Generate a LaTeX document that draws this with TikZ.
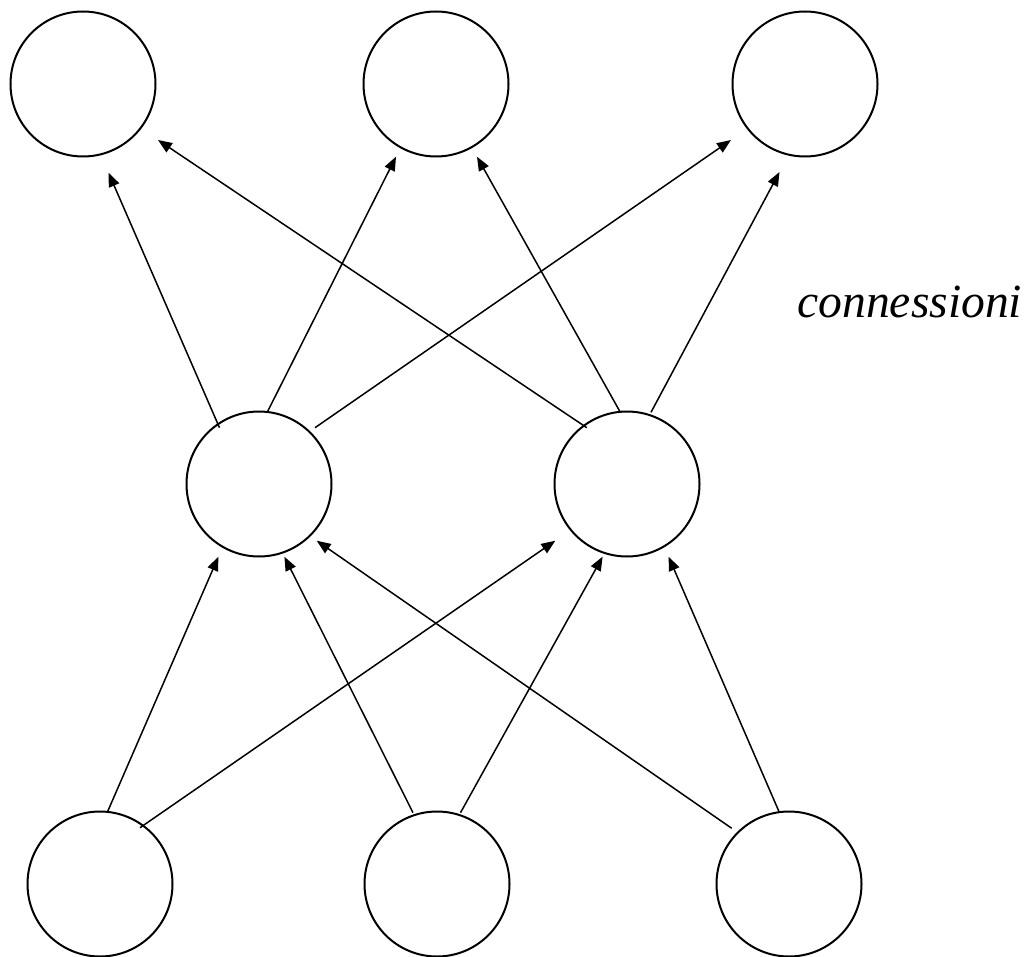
\documentclass[tikz,border=0pt]{standalone}
\usepackage{fontspec}
\setmainfont{Liberation Serif}
\usetikzlibrary{calc,arrows.meta}
\begin{document}
\begin{tikzpicture}[x=0.5pt,y=-0.5pt,
  neuron/.style={draw,circle,line width=1pt,minimum size=72.5pt,inner sep=0pt},
  link/.style={line width=0.75pt,-{Triangle[length=7pt,width=5.5pt]}}]
\useasboundingbox (0,0) rectangle (1028,957);
% units
\node[neuron] (TL) at (83,84) {};
\node[neuron] (TM) at (436,84) {};
\node[neuron] (TR) at (805,84) {};
\node[neuron] (ML) at (259,484) {};
\node[neuron] (MR) at (627,484) {};
\node[neuron] (BL) at (100,884) {};
\node[neuron] (BM) at (437,884) {};
\node[neuron] (BR) at (789,884) {};
% middle layer to top layer
\draw[link] ($(ML)+(-39.5,-56.3)$) -- ($(TL)+(25.5,88.7)$);
\draw[link] ($(ML)+(8.5,-72.3)$) -- ($(TM)+(-40,72.7)$);
\draw[link] ($(ML)+(56,-56.3)$) -- ($(TR)+(-74,56)$);
\draw[link] ($(MR)+(-40.2,-56.3)$) -- ($(TL)+(75,56)$);
\draw[link] ($(MR)+(-7,-72.3)$) -- ($(TM)+(41,72.7)$);
\draw[link] ($(MR)+(24,-71.7)$) -- ($(TR)+(-25.5,88)$);
% bottom layer to middle layer
\draw[link] ($(BL)+(7.3,-71.7)$) -- ($(ML)+(-40.6,72.7)$);
\draw[link] ($(BL)+(40,-56.3)$) -- ($(MR)+(-71.7,56.7)$);
\draw[link] ($(BM)+(-24,-71.3)$) -- ($(ML)+(25.4,72.7)$);
\draw[link] ($(BM)+(23.5,-71.3)$) -- ($(MR)+(-24.4,72.7)$);
\draw[link] ($(BR)+(-57.3,-55.7)$) -- ($(ML)+(57.7,56.7)$);
\draw[link] ($(BR)+(-9.7,-71.7)$) -- ($(MR)+(41.6,72.7)$);
\node[anchor=base west,inner sep=0pt,font=\fontsize{23.8pt}{28pt}\selectfont\itshape] (lbl) at (797,317) {connessioni};
\end{tikzpicture}
\end{document}
